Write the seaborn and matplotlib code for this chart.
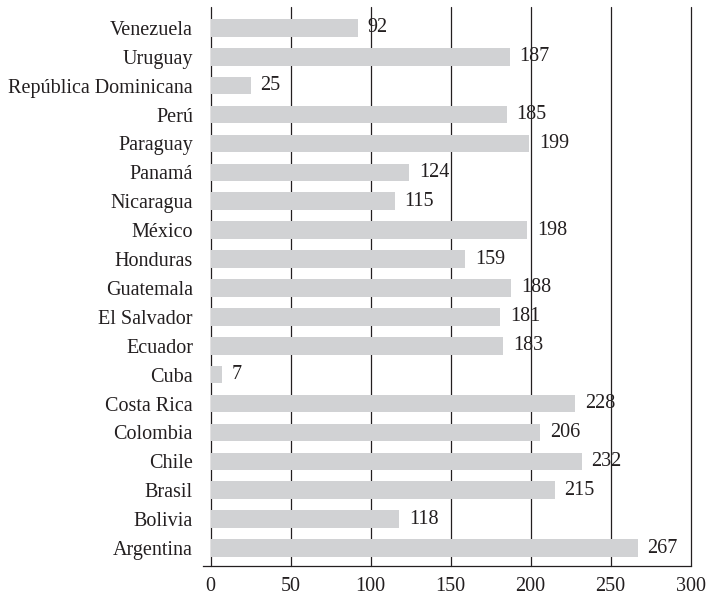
import matplotlib.pyplot as plt
import seaborn as sns
import pandas as pd

# Datos (de arriba hacia abajo)
paises = ['Venezuela', 'Uruguay', 'República Dominicana', 'Perú', 'Paraguay',
          'Panamá', 'Nicaragua', 'México', 'Honduras', 'Guatemala',
          'El Salvador', 'Ecuador', 'Cuba', 'Costa Rica', 'Colombia',
          'Chile', 'Brasil', 'Bolivia', 'Argentina']
valores = [92, 187, 25, 185, 199, 124, 115, 198, 159, 188,
           181, 183, 7, 228, 206, 232, 215, 118, 267]
x_ticks = [0, 50, 100, 150, 200, 250, 300]

df = pd.DataFrame({'pais': paises, 'valor': valores})

sns.set_style('white')
plt.rcParams['font.family'] = ['Liberation Serif', 'DejaVu Serif']

fig = plt.figure(figsize=(7.09, 5.99), dpi=100)
ax = fig.add_axes([0.2859, 0.0556, 0.975 - 0.2859, 0.9883 - 0.0556])

sns.barplot(data=df, x='valor', y='pais', order=paises, color='#d1d2d4',
            width=0.61, saturation=1, linewidth=0, ax=ax, zorder=2)

ax.bar_label(ax.containers[0], labels=[str(v) for v in valores],
             padding=7, fontsize=14.5, color='#231f20', zorder=3)

ax.set_xlim(-5, 300.4)
ax.set_ylim(len(paises) - 1 + 0.61, -0.72)
ax.set_xticks(x_ticks)
ax.grid(axis='x', color='#231f20', linewidth=0.9, zorder=1)
ax.grid(axis='y', visible=False)
ax.set_axisbelow(True)
for gl in ax.get_xgridlines():
    gl.set_clip_on(False)

for s in ['left', 'right', 'top']:
    ax.spines[s].set_visible(False)
ax.spines['bottom'].set_color('#231f20')
ax.spines['bottom'].set_linewidth(0.9)

# pequeña marca bajo el cero
ax.set_xticks([0], minor=True)
ax.tick_params(axis='x', which='minor', length=7, width=0.9, color='#231f20',
               direction='out', bottom=True)
ax.tick_params(axis='x', which='major', length=0, pad=8, labelsize=14.5,
               labelcolor='#231f20')
ax.tick_params(axis='y', length=0, pad=7, labelsize=14.5, labelcolor='#231f20')

ax.set_xlabel('')
ax.set_ylabel('')

fig.savefig('out.png', dpi=100)
